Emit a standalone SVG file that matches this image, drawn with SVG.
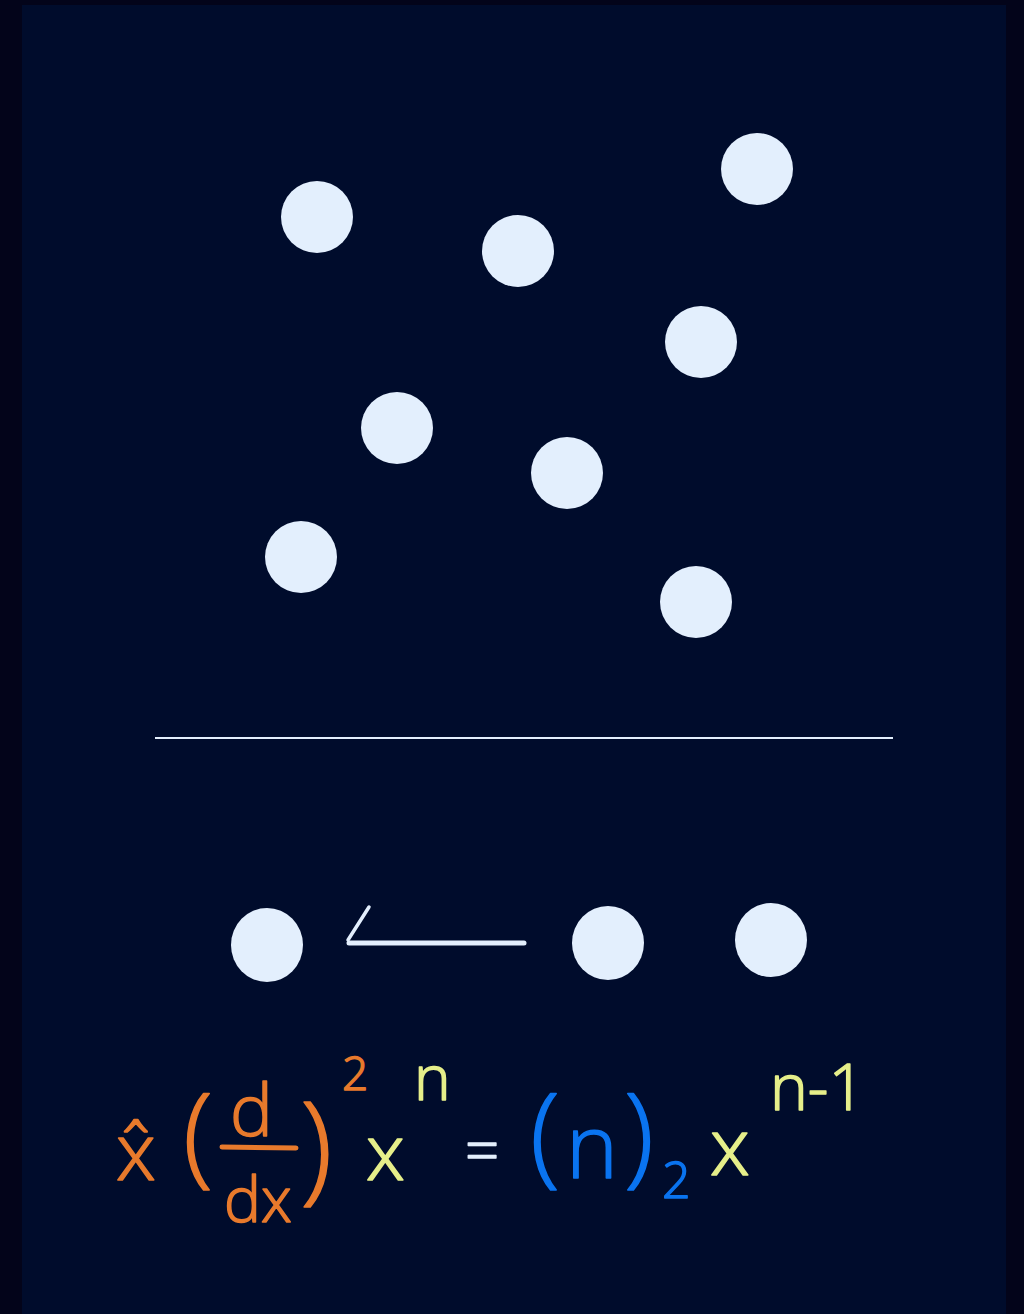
<svg xmlns="http://www.w3.org/2000/svg" width="1024" height="1314" viewBox="0 0 1024 1314">
<defs>
<style>
.dot{fill:#e3effd}
.f{font-family:"Open Sans","DejaVu Sans",sans-serif;font-weight:300;stroke-width:1.5;stroke-linejoin:round}
.or{fill:#e87a2c;stroke:#e87a2c}
.ye{fill:#e6ef8a;stroke:#e6ef8a}
.bl{fill:#0a74f0;stroke:#0a74f0}
.wh{fill:#e3effd;stroke:#e3effd}
</style>
</defs>
<rect x="0" y="0" width="1024" height="1314" fill="#03041a"/>
<rect x="22" y="5" width="984" height="1309" fill="#000c2c"/>
<g id="n1"><circle class="dot" cx="317" cy="217" r="36"/></g>
<g id="n2"><circle class="dot" cx="518" cy="251" r="36"/></g>
<g id="n3"><circle class="dot" cx="757" cy="169" r="36"/></g>
<g id="n4"><circle class="dot" cx="701" cy="342" r="36"/></g>
<g id="n5"><circle class="dot" cx="397" cy="428" r="36"/></g>
<g id="n6"><circle class="dot" cx="567" cy="473" r="36"/></g>
<g id="n7"><circle class="dot" cx="301" cy="557" r="36"/></g>
<g id="n8"><circle class="dot" cx="696" cy="602" r="36"/></g>
<line x1="155" y1="738" x2="893" y2="738" stroke="#e3effd" stroke-width="2"/>
<g id="n9"><ellipse class="dot" cx="267" cy="945" rx="36" ry="37"/></g>
<g id="n10"><ellipse class="dot" cx="608" cy="943" rx="36" ry="37"/></g>
<g id="n11"><ellipse class="dot" cx="771" cy="940" rx="36" ry="37"/></g>
<g id="connectors" fill="none" stroke="#e3effd" stroke-linecap="round">
<line x1="349" y1="943" x2="524" y2="943" stroke-width="5"/>
<line x1="348" y1="940" x2="369" y2="907" stroke-width="3.5"/>
</g>
<g id="formula">
<text class="f or" x="116" y="1180" font-size="80">x̂</text>
<text class="f or" x="183" y="1172" font-size="110">(</text>
<text class="f or" x="230" y="1136" font-size="72">d</text>
<line x1="222" y1="1147" x2="296" y2="1148" stroke="#e87a2c" stroke-width="5" stroke-linecap="round"/>
<text class="f or" x="224" y="1222" font-size="62">dx</text>
<text class="f or" x="300" y="1188" font-size="120">)</text>
<text class="f or" x="342" y="1090" font-size="46">2</text>
<text class="f ye" x="366" y="1180" font-size="78">x</text>
<text class="f ye" x="414" y="1100" font-size="62">n</text>
<text class="f wh" x="465" y="1172" font-size="60">=</text>
<text class="f bl" x="530" y="1172" font-size="110">(</text>
<text class="f bl" x="566" y="1178" font-size="88">n</text>
<text class="f bl" x="624" y="1172" font-size="110">)</text>
<text class="f bl" x="662" y="1198" font-size="50">2</text>
<text class="f ye" x="710" y="1175" font-size="80">x</text>
<text class="f ye" x="770" y="1110" font-size="64">n-1</text>
</g>
</svg>
